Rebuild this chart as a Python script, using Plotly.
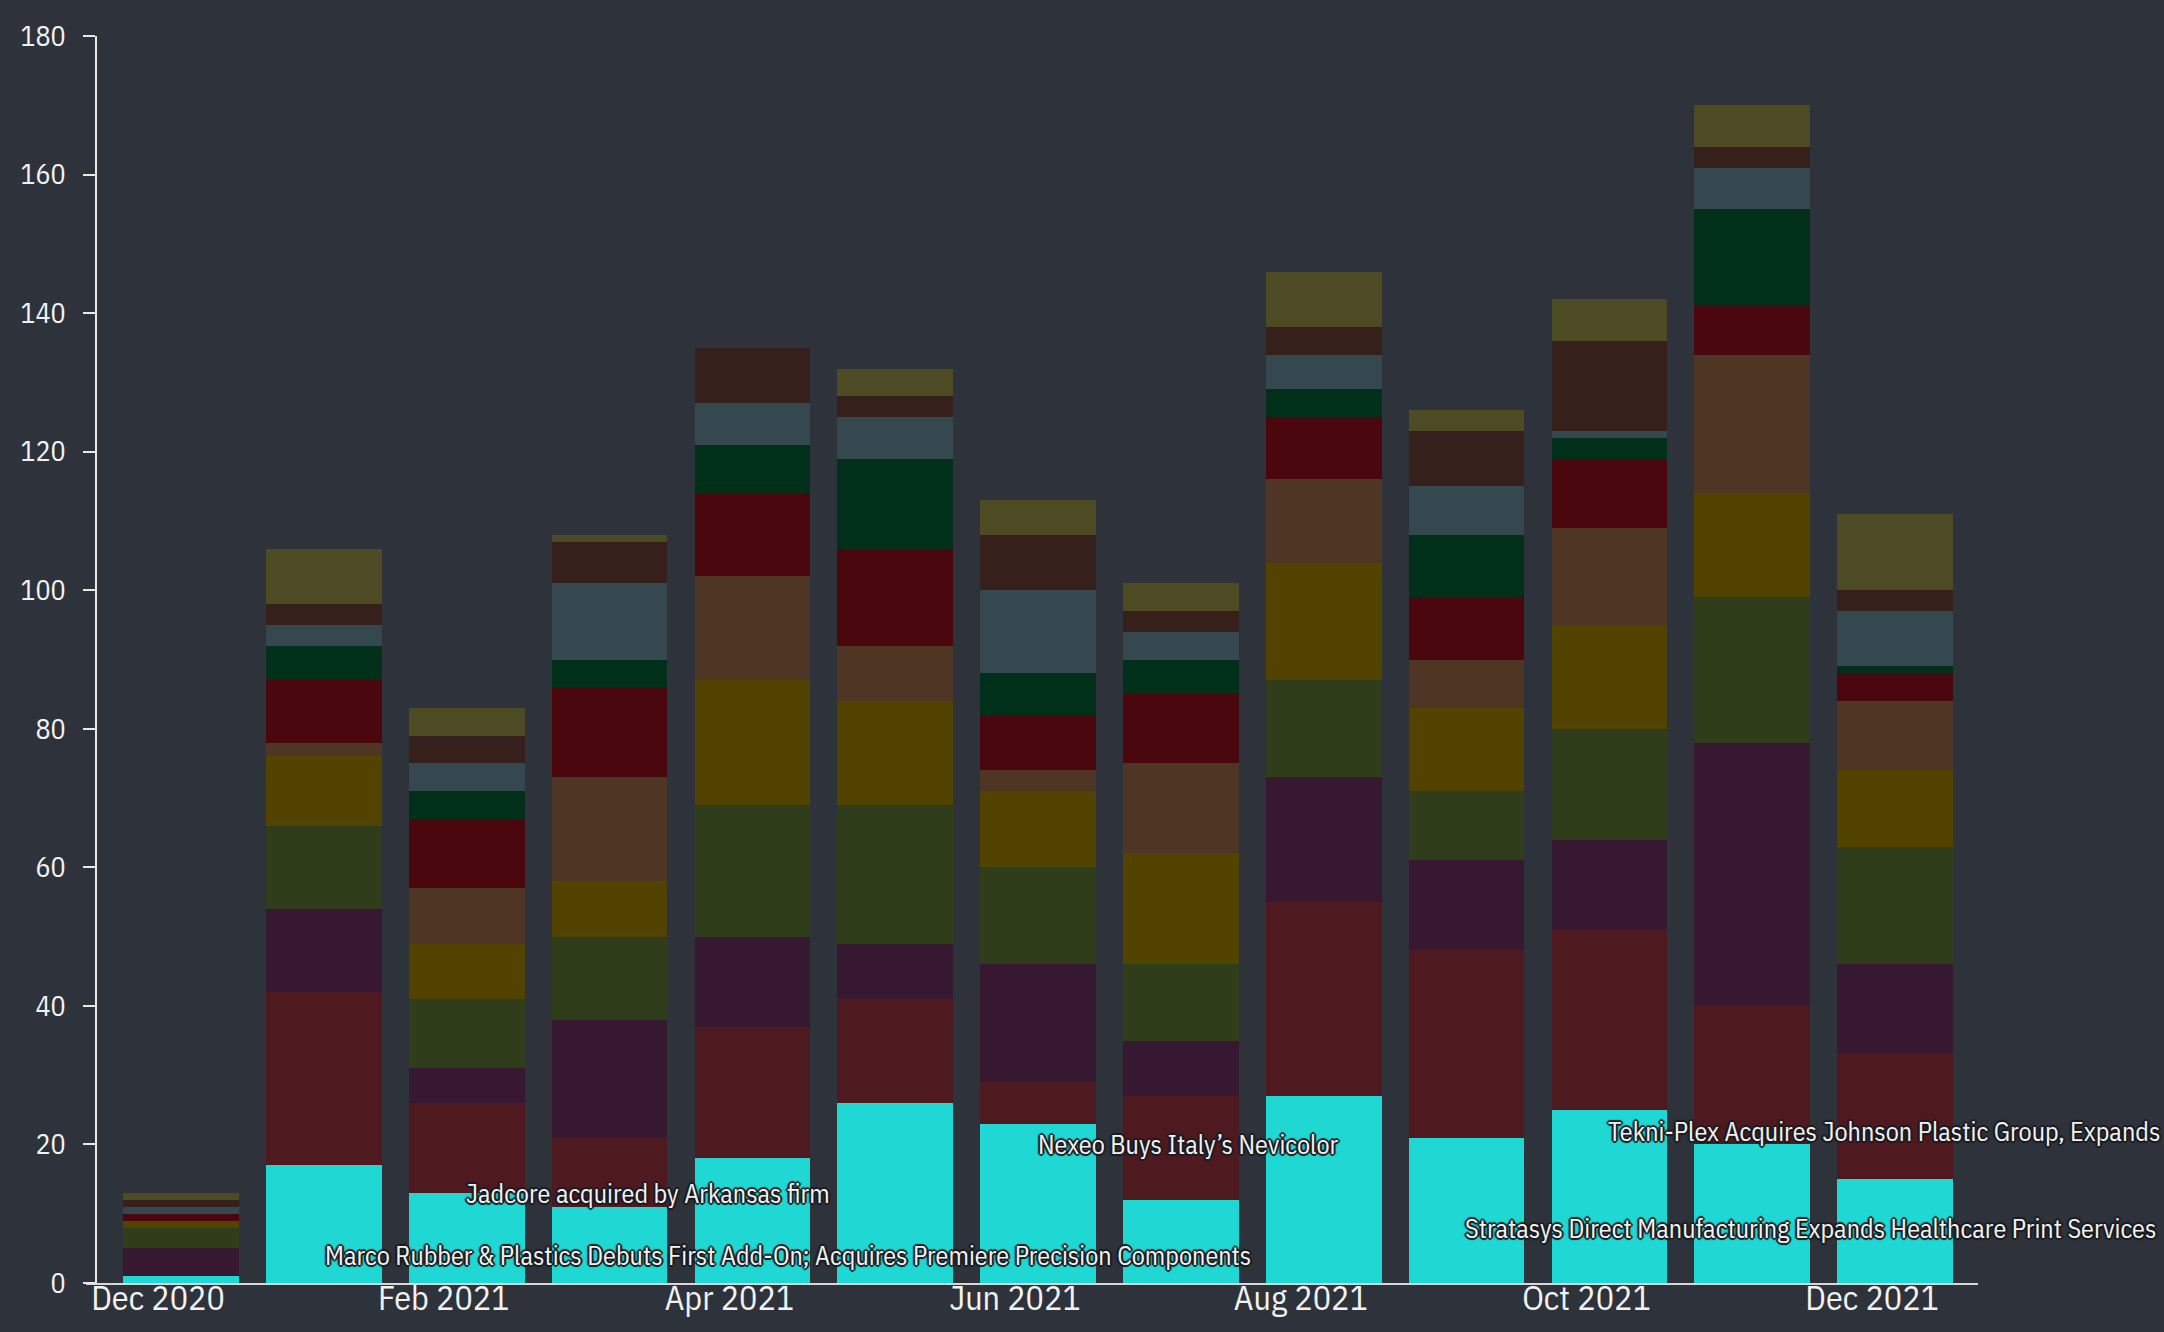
import plotly.graph_objects as go

months = ["Dec 2020", "Jan 2021", "Feb 2021", "Mar 2021", "Apr 2021", "May 2021", "Jun 2021",
          "Jul 2021", "Aug 2021", "Sep 2021", "Oct 2021", "Nov 2021", "Dec 2021"]

s_cyan     = [1, 17, 13, 11, 18, 26, 23, 12, 27, 21, 25, 20, 15]
s_red      = [0, 25, 13, 10, 19, 15, 6, 15, 28, 27, 26, 20, 18]
s_purple   = [4, 12, 5, 17, 13, 8, 17, 8, 18, 13, 13, 38, 13]
s_green    = [3, 12, 10, 12, 19, 20, 14, 11, 14, 10, 16, 21, 17]
s_mustard  = [1, 10, 8, 8, 18, 15, 11, 16, 17, 12, 15, 15, 11]
s_brown    = [0, 2, 8, 15, 15, 8, 3, 13, 12, 7, 14, 20, 10]
s_maroon   = [1, 9, 10, 13, 12, 14, 8, 10, 9, 9, 10, 7, 4]
s_dkgreen  = [0, 5, 4, 4, 7, 13, 6, 5, 4, 9, 3, 14, 1]
s_slate    = [1, 3, 4, 11, 6, 6, 12, 4, 5, 7, 1, 6, 8]
s_dkbrown  = [1, 3, 4, 6, 8, 3, 8, 3, 4, 8, 13, 3, 3]
s_olive    = [1, 8, 4, 1, 0, 4, 5, 4, 8, 3, 6, 6, 11]

series = [s_cyan, s_red, s_purple, s_green, s_mustard, s_brown, s_maroon,
          s_dkgreen, s_slate, s_dkbrown, s_olive]
colors = ["#1fd8d3", "#4e1a20", "#361830", "#2f3d1a", "#524300", "#4f3524",
          "#4b070e", "#00301a", "#354850", "#35201c", "#4d4b23"]

tick_months = months[::2]

ann_text = ["Marco Rubber & Plastics Debuts First Add-On; Acquires Premiere Precision Components",
            "Jadcore acquired by Arkansas firm",
            "Nexeo Buys Italy\u2019s Nevicolor",
            "Tekni-Plex Acquires Johnson Plastic Group, Expands",
            "Stratasys Direct Manufacturing Expands Healthcare Print Services"]
ann_x = [4.25, 3.27, 7.05, 11.92, 11.41]
ann_y = [4, 13, 20, 22, 8]

BG = "#2e323a"
FG = "#f2f2f2"
FONT = "IBM Plex Sans Condensed, Liberation Sans Narrow, DejaVu Sans Condensed, Roboto, sans-serif"

xs = list(range(len(months)))
fig = go.Figure()
for vals, col in zip(series, colors):
    fig.add_trace(go.Bar(x=xs, y=vals, marker=dict(color=col, line=dict(width=0)),
                         showlegend=False, hoverinfo="y"))

shadow = ("1px 1px 1px #1b1d22, -1px -1px 1px #1b1d22, 1px -1px 1px #1b1d22, -1px 1px 1px #1b1d22, "
          "2px 0 1px #1b1d22, -2px 0 1px #1b1d22, 0 2px 1px #1b1d22, 0 -2px 1px #1b1d22")
for t, x, y in zip(ann_text, ann_x, ann_y):
    fig.add_annotation(x=x, y=y, xref="x", yref="y", text=t, showarrow=False,
                       xanchor="center", yanchor="middle",
                       font=dict(family=FONT, size=26, color=FG, shadow=shadow))

fig.update_layout(
    width=2164, height=1332,
    barmode="stack", bargap=0.19,
    paper_bgcolor=BG, plot_bgcolor=BG,
    margin=dict(l=86, r=186, t=36, b=49, autoexpand=False),
    font=dict(family=FONT, color=FG, size=24),
    xaxis=dict(range=[-0.665, 12.58], tickmode="array",
               tickvals=[xs[i] for i in range(0, len(xs), 2)], ticktext=tick_months,
               ticklabelshift=-23, ticklabelstandoff=-16, automargin=False,
               showline=True, linecolor="#d8d8d8", linewidth=2,
               ticks="", showgrid=False, zeroline=False,
               tickfont=dict(size=34, color=FG)),
    yaxis=dict(range=[0, 180], dtick=20, anchor="free", position=0.0053,
               showline=True, linecolor="#e8e8e8", linewidth=1.5,
               ticks="outside", ticklen=12, tickcolor="#e8e8e8", tickwidth=1.5,
               ticklabelstandoff=12, automargin=False,
               showgrid=False, zeroline=False, tickfont=dict(size=28, color=FG)),
)

fig.write_html("out.html", config={"displayModeBar": False},
               post_script="document.body.style.margin='0';document.body.style.background='#2e323a';")
